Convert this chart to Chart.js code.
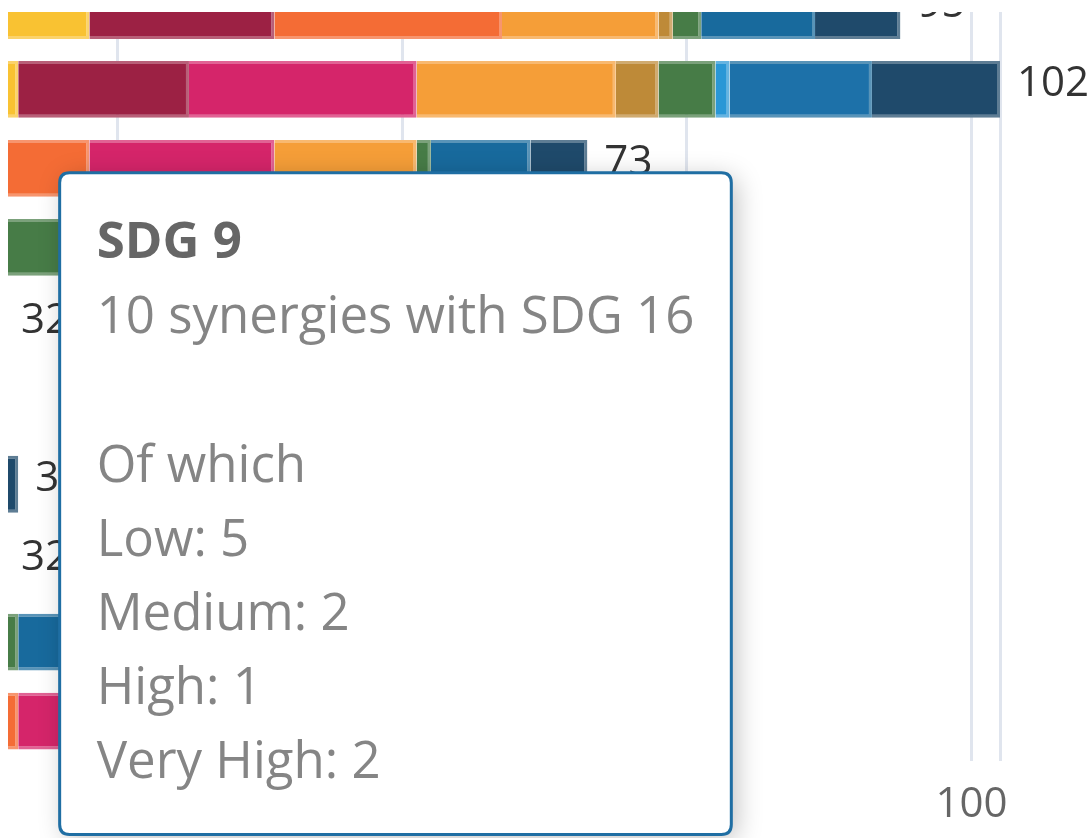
<!DOCTYPE html>
<html>
<head>
<meta charset="utf-8">
<script src="https://cdn.jsdelivr.net/npm/chart.js@4.4.1/dist/chart.umd.min.js"></script>
<style>
    html, body { margin: 0; padding: 0; background: #fff; overflow: hidden; }
    #view { position: absolute; left: 8px; top: 12px; width: 1083px; height: 826px; overflow: hidden; }
    #synergyChart { position: absolute; left: -8px; top: -72px; }
</style>
</head>
<body>
<div id="view"><canvas id="synergyChart" width="1091" height="918"></canvas></div>
<script>
(function () {
    // rows, top to bottom
    var rowLabels = ['SDG 10', 'SDG 9', 'SDG 8', 'SDG 7', 'SDG 6', 'SDG 5', 'SDG 4', 'SDG 3', 'SDG 2', 'SDG 1'];

    // synergies of each row with SDG n (one array per stacked series)
    var sdg1 = [6, 5, 4, 2, 3, 3, 3, 3, 4, 0];
    var sdg2 = [4, 4, 3, 1, 3, 2, 2, 3, 0, 4];
    var sdg3 = [7, 6, 5, 2, 4, 3, 3, 0, 3, 5];
    var sdg4 = [5, 6, 6, 2, 2, 3, 0, 3, 2, 4];
    var sdg5 = [5, 3, 3, 1, 2, 0, 3, 2, 3, 3];
    var sdg6 = [3, 4, 3, 3, 0, 1, 1, 3, 3, 3];
    var sdg7 = [8, 5, 4, 0, 3, 1, 1, 1, 2, 3];
    var sdg8 = [13, 12, 0, 5, 2, 2, 4, 3, 3, 6];
    var sdg9 = [16, 0, 10, 6, 2, 1, 2, 1, 2, 5];
    var sdg10 = [0, 16, 13, 2, 1, 3, 3, 3, 2, 6];
    var sdg11 = [11, 14, 10, 4, 3, 1, 2, 3, 2, 4];
    var sdg12 = [1, 3, 0, 3, 2, 0, 1, 2, 4, 2];
    var sdg13 = [2, 4, 1, 9, 2, 0, 2, 1, 3, 3];
    var sdg14 = [0, 1, 0, 2, 1, 0, 0, 0, 0, 0];
    var sdg15 = [0, 0, 0, 3, 1, 0, 1, 1, 0, 0];
    var sdg16 = [8, 10, 7, 4, 0, 3, 3, 2, 5, 4];
    var sdg17 = [6, 9, 4, 6, 1, 1, 2, 1, 4, 3];

    var seriesLabels = ['SDG 1', 'SDG 2', 'SDG 3', 'SDG 4', 'SDG 5', 'SDG 6', 'SDG 7', 'SDG 8', 'SDG 9',
        'SDG 10', 'SDG 11', 'SDG 12', 'SDG 13', 'SDG 14', 'SDG 15', 'SDG 16', 'SDG 17'];
    var seriesData = [sdg1, sdg2, sdg3, sdg4, sdg5, sdg6, sdg7, sdg8, sdg9,
        sdg10, sdg11, sdg12, sdg13, sdg14, sdg15, sdg16, sdg17];
    var seriesColors = ['#e5243b', '#dda63a', '#4c9f38', '#c5192d', '#ff3a21', '#26bde2', '#f9c232', '#9c2144', '#f46c35',
        '#d5256a', '#f59e38', '#be8a38', '#477c47', '#2a97d6', '#56c02b', '#186a9d', '#1f4a6b'];

    // x axis
    var xMin = 32;
    var xMax = 102;
    var xTickValues = [40, 60, 80, 100];

    // breakdown shown in the tooltip
    var levelNames = ['Low', 'Medium', 'High', 'Very High'];
    var synergyLevels = { 'SDG 9|SDG 16': [5, 2, 1, 2] };
    var activeRow = 1;
    var activeSeries = 15;

    var tint = function (hex, amount) {
        var n = parseInt(hex.slice(1), 16);
        var c = [n >> 16, (n >> 8) & 255, n & 255].map(function (v) {
            return Math.round(v + (255 - v) * amount);
        });
        return 'rgb(' + c.join(',') + ')';
    };

    Chart.defaults.font.family = "'Open Sans', sans-serif";
    Chart.defaults.color = '#666';

    Chart.Tooltip.positioners.belowLeft = function (items) {
        if (!items.length) {
            return false;
        }
        var el = items[0].element;
        return { x: el.base - 660, y: el.y + el.height / 2 + 55 };
    };

    var stackTotals = {
        id: 'stackTotals',
        afterDatasetsDraw: function (chart) {
            var ctx = chart.ctx;
            var xs = chart.scales.x;
            var meta = chart.getDatasetMeta(0);
            ctx.save();
            ctx.font = "42px 'Open Sans'";
            ctx.fillStyle = '#333';
            ctx.textAlign = 'left';
            ctx.textBaseline = 'middle';
            for (var i = 0; i < rowLabels.length; i++) {
                var total = 0;
                for (var s = 0; s < seriesData.length; s++) {
                    total += seriesData[s][i];
                }
                ctx.fillText(String(total), xs.getPixelForValue(total) + 17, meta.data[i].y - 5.5);
            }
            ctx.restore();
        }
    };

    var tooltipShadow = {
        id: 'tooltipShadow',
        beforeTooltipDraw: function (chart, args) {
            var t = args.tooltip;
            if (!t.opacity) {
                return;
            }
            var ctx = chart.ctx;
            ctx.save();
            ctx.shadowColor = 'rgba(0,0,0,0.25)';
            ctx.shadowBlur = 26;
            ctx.shadowOffsetX = 5;
            ctx.shadowOffsetY = 5;
            ctx.fillStyle = '#fff';
            ctx.beginPath();
            ctx.roundRect(t.x, t.y, t.width, t.height, 10);
            ctx.fill();
            ctx.restore();
        }
    };

    var datasets = seriesLabels.map(function (label, i) {
        return {
            label: label,
            data: seriesData[i],
            backgroundColor: seriesColors[i],
            borderColor: tint(seriesColors[i], 0.28),
            borderWidth: 3,
            hoverBackgroundColor: i === activeSeries ? '#1d71a9' : seriesColors[i],
            hoverBorderColor: tint(seriesColors[i], 0.28),
            barPercentage: 0.9,
            categoryPercentage: 0.8
        };
    });

    var chart = new Chart(document.getElementById('synergyChart'), {
        type: 'bar',
        data: { labels: rowLabels, datasets: datasets },
        plugins: [stackTotals, tooltipShadow],
        options: {
            indexAxis: 'y',
            responsive: false,
            animation: false,
            events: [],
            layout: { padding: { top: 31, left: 4, right: 91, bottom: 9 } },
            scales: {
                x: {
                    type: 'linear',
                    stacked: true,
                    min: xMin,
                    max: xMax,
                    afterBuildTicks: function (scale) {
                        scale.ticks = xTickValues.concat([xMax]).map(function (v) {
                            return { value: v };
                        });
                    },
                    grid: { color: '#e0e5ee', lineWidth: 3, drawTicks: false },
                    border: { display: false },
                    ticks: {
                        padding: 19,
                        font: { size: 42 },
                        color: '#666',
                        autoSkip: false,
                        maxRotation: 0,
                        callback: function (v) {
                            return xTickValues.indexOf(v) >= 0 ? String(v) : '';
                        }
                    }
                },
                y: { stacked: true, display: false }
            },
            plugins: {
                legend: { display: false },
                tooltip: {
                    position: 'belowLeft',
                    xAlign: 'left',
                    yAlign: 'top',
                    backgroundColor: '#fff',
                    borderColor: '#1f6ea3',
                    borderWidth: 3,
                    cornerRadius: 10,
                    caretSize: 0,
                    caretPadding: 0,
                    displayColors: false,
                    titleColor: '#666',
                    titleFont: { size: 51, weight: 'bold', lineHeight: 1.2 },
                    titleMarginBottom: 14,
                    bodyColor: '#858585',
                    bodyFont: { size: 51, lineHeight: 1.2 },
                    bodySpacing: 13,
                    padding: { top: 40, bottom: 40, left: 37, right: 37 },
                    callbacks: {
                        title: function (items) {
                            return items[0].label;
                        },
                        label: function (item) {
                            var lines = [item.raw + ' synergies with ' + item.dataset.label];
                            var split = synergyLevels[item.label + '|' + item.dataset.label];
                            if (split) {
                                lines.push('', 'Of which');
                                levelNames.forEach(function (n, i) {
                                    lines.push(n + ': ' + split[i]);
                                });
                            }
                            return lines;
                        }
                    }
                }
            }
        }
    });

    var active = [{ datasetIndex: activeSeries, index: activeRow }];
    chart.setActiveElements(active);
    chart.tooltip.setActiveElements(active, { x: 0, y: 0 });
    chart.update();
})();
</script>
</body>
</html>
